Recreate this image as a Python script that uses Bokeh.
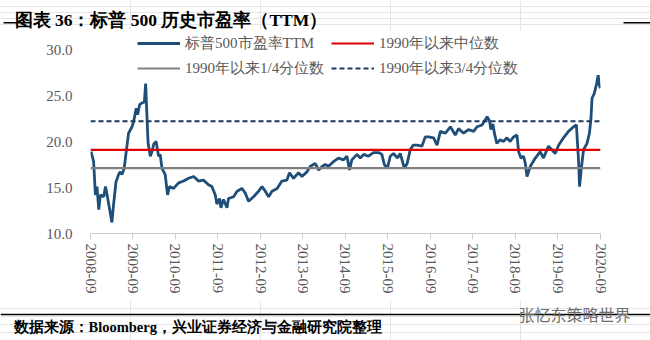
import math
import pandas as pd
from bokeh.plotting import figure
from bokeh.layouts import column
from bokeh.models import (ColumnDataSource, FixedTicker, DatetimeTickFormatter, Legend,
                          LegendItem, Label, BoxAnnotation, Range1d, NumeralTickFormatter)
from bokeh.embed import file_html
from bokeh.resources import INLINE

# ---------------- data ----------------
dates = [
    "2008-09-06", "2008-09-28", "2008-10-13", "2008-10-27", "2008-11-11", "2008-11-25", "2008-12-23",
    "2009-01-08", "2009-01-27", "2009-02-20", "2009-03-04", "2009-03-18", "2009-04-08", "2009-04-30",
    "2009-05-15", "2009-05-29", "2009-06-18", "2009-07-05", "2009-07-25", "2009-08-24", "2009-09-07",
    "2009-09-29", "2009-10-11", "2009-10-28", "2009-11-18", "2009-12-08", "2009-12-19", "2010-01-01",
    "2010-01-09", "2010-01-28", "2010-02-12", "2010-02-26", "2010-03-19", "2010-04-09", "2010-04-23",
    "2010-05-08", "2010-06-05", "2010-06-25", "2010-07-12", "2010-08-16", "2010-09-28", "2010-11-10",
    "2010-12-23", "2011-02-05", "2011-03-18", "2011-04-30", "2011-06-12", "2011-07-11", "2011-08-09",
    "2011-08-23", "2011-09-15", "2011-09-27", "2011-10-19", "2011-11-18", "2011-12-01", "2012-01-14",
    "2012-02-13", "2012-03-25", "2012-04-23", "2012-05-21", "2012-07-03", "2012-08-16", "2012-09-14",
    "2012-10-12", "2012-11-10", "2012-12-09", "2013-01-22", "2013-03-04", "2013-04-16", "2013-05-08",
    "2013-06-12", "2013-07-25", "2013-08-23", "2013-10-05", "2013-11-04", "2013-12-16", "2014-01-14",
    "2014-02-13", "2014-03-11", "2014-04-08", "2014-05-21", "2014-07-03", "2014-08-16", "2014-09-14",
    "2014-10-06", "2014-10-26", "2014-12-09", "2015-01-07", "2015-02-05", "2015-03-17", "2015-04-30",
    "2015-06-12", "2015-07-11", "2015-08-01", "2015-08-28", "2015-09-21", "2015-10-19", "2015-11-23",
    "2015-12-16", "2016-01-20", "2016-02-13", "2016-03-11", "2016-04-04", "2016-05-07", "2016-06-20",
    "2016-07-18", "2016-08-15", "2016-09-28", "2016-10-27", "2016-11-25", "2017-01-07", "2017-02-19",
    "2017-04-02", "2017-04-30", "2017-06-12", "2017-07-24", "2017-09-07", "2017-10-06", "2017-11-18",
    "2017-12-08", "2018-01-01", "2018-01-22", "2018-02-02", "2018-02-19", "2018-03-06", "2018-03-25",
    "2018-04-23", "2018-05-21", "2018-06-20", "2018-07-17", "2018-08-16", "2018-09-14", "2018-09-28",
    "2018-10-18", "2018-11-10", "2018-11-25", "2018-12-09", "2019-01-07", "2019-02-19", "2019-04-02",
    "2019-04-30", "2019-06-12", "2019-07-11", "2019-08-09", "2019-09-07", "2019-10-19", "2019-12-01",
    "2020-01-14", "2020-02-07", "2020-02-13", "2020-02-26", "2020-03-05", "2020-03-17", "2020-04-08",
    "2020-05-08", "2020-05-29", "2020-06-11", "2020-06-20", "2020-07-09", "2020-07-30", "2020-08-12",
    "2020-08-20", "2020-09-01",
]
pe_ttm = [
    18.9, 17.8, 14.2, 15.1, 12.6, 14.2, 14.0,
    15.1, 13.8, 12.1, 11.2, 13.1, 15.6, 16.4,
    16.7, 16.4, 17.1, 18.9, 20.9, 21.6, 22.2,
    23.6, 22.9, 24.0, 24.2, 24.3, 26.3, 22.2,
    19.8, 18.4, 18.9, 19.7, 20.0, 18.4, 18.6,
    17.1, 16.4, 14.2, 15.1, 14.9, 15.5, 15.7,
    16.0, 16.2, 15.7, 15.8, 15.3, 15.1, 14.2,
    13.2, 13.8, 12.8, 13.7, 12.8, 13.8, 14.0,
    14.6, 14.9, 14.4, 13.5, 14.0, 14.6, 15.1,
    14.6, 14.0, 14.6, 14.9, 15.7, 15.8, 16.6,
    16.0, 16.6, 16.2, 16.7, 17.3, 17.6, 16.9,
    17.3, 17.5, 17.3, 17.8, 18.2, 18.0, 18.4,
    16.9, 18.0, 18.6, 18.2, 18.6, 18.4, 18.8,
    18.8, 18.6, 17.5, 17.1, 18.4, 18.7, 18.2,
    18.7, 17.1, 17.6, 19.1, 19.6, 19.6, 19.5,
    20.5, 20.5, 20.4, 19.6, 21.1, 20.9, 21.6,
    20.7, 21.4, 20.9, 21.3, 21.1, 21.6, 21.8,
    22.2, 22.7, 22.2, 21.3, 21.9, 20.8, 19.8,
    20.2, 20.0, 20.4, 20.0, 20.5, 20.7, 18.9,
    18.2, 18.4, 17.6, 16.2, 17.3, 18.2, 18.9,
    18.2, 19.5, 19.1, 18.7, 19.6, 20.4, 21.1,
    21.6, 21.8, 20.5, 17.8, 15.1, 16.7, 19.1,
    19.8, 20.9, 22.5, 24.7, 25.2, 26.3, 27.2,
    26.2, 25.8,
]
ref_dates = ["2008-09-01", "2020-09-01"]
median_1990 = 19.1
q1_1990 = 17.1
q3_1990 = 22.2

series_names = ["标普500市盈率TTM", "1990年以来中位数", "1990年以来1/4分位数", "1990年以来3/4分位数"]
tick_dates = ["2008-09-01", "2009-09-01", "2010-09-01", "2011-09-01", "2012-09-01", "2013-09-01",
              "2014-09-01", "2015-09-01", "2016-09-01", "2017-09-01", "2018-09-01", "2019-09-01",
              "2020-09-01"]
y_ticks = [10, 15, 20, 25, 30]

title_text = "图表 36：标普 500 历史市盈率（TTM）"
source_text = "数据来源：Bloomberg，兴业证券经济与金融研究院整理"
watermark_text = "张忆东策略世界"

# ---------------- styling ----------------
SERIF = "Liberation Serif"
GRAY_TXT = "#595959"
W = 650


def strip(height):
    f = figure(width=W, height=height, output_backend="svg", toolbar_location=None,
               x_range=Range1d(0, 1), y_range=Range1d(0, 1),
               x_axis_location=None, y_axis_location=None, min_border=0)
    f.outline_line_color = None
    f.background_fill_color = "white"
    f.border_fill_color = "white"
    f.frame_align = False
    return f


def hrule(f, x0, x1, y0, y1, color="#000000"):
    f.add_layout(BoxAnnotation(left=x0, right=x1, bottom=y0, top=y1,
                               left_units="screen", right_units="screen",
                               bottom_units="screen", top_units="screen",
                               fill_color=color, fill_alpha=1, line_color=None))


# ---- title strip (canvas y 0..30) ----
top = strip(30)
top.add_layout(Label(x=14, y=11, x_units="screen", y_units="screen", text=title_text,
                     text_font=SERIF, text_font_size="17.5px", text_font_style="bold",
                     text_color="#000000", text_baseline="alphabetic"))
hrule(top, 3, 31, 7, 8.5)
hrule(top, 623, 650, 7, 8.5)

# ---- main chart (canvas y 30..300); frame: x 90..600, y 33..233 ----
x_dt = pd.to_datetime(dates)
rx = pd.to_datetime(ref_dates)
src = ColumnDataSource(dict(x=x_dt, y=pe_ttm))

p = figure(width=W, height=270, x_axis_type="datetime", output_backend="svg",
           toolbar_location=None,
           x_range=Range1d(pd.Timestamp(ref_dates[0]), pd.Timestamp(ref_dates[1])),
           y_range=Range1d(10, 10 + 200 / 9.2),
           min_border_left=90, min_border_right=50, min_border_top=3, min_border_bottom=67)
p.outline_line_color = None
p.grid.visible = False
p.background_fill_color = "white"
p.border_fill_color = "white"
p.frame_align = False

r_ttm = p.line("x", "y", source=src, line_color="#1f4e79", line_width=2.8)
r_med = p.line(rx, [median_1990, median_1990], line_color="#e00000", line_width=2.2)
r_q1 = p.line(rx, [q1_1990, q1_1990], line_color="#808080", line_width=2.2)
r_q3 = p.line(rx, [q3_1990, q3_1990], line_color="#1b3a5c", line_width=2.0, line_dash="5 3")

xa = p.xaxis[0]
xa.ticker = FixedTicker(ticks=[pd.Timestamp(t).value / 1e6 for t in tick_dates])
xa.formatter = DatetimeTickFormatter(days="%Y-%m", months="%Y-%m", years="%Y-%m")
xa.major_label_orientation = -math.pi / 2
xa.axis_line_color = "#cccccc"
xa.major_tick_line_color = "#cccccc"
xa.major_tick_out = 6
xa.major_tick_in = 0
xa.minor_tick_line_color = None
xa.major_label_standoff = 4
xa.major_label_text_font = SERIF
xa.major_label_text_font_size = "15px"
xa.major_label_text_color = GRAY_TXT

ya = p.yaxis[0]
ya.ticker = FixedTicker(ticks=y_ticks)
ya.formatter = NumeralTickFormatter(format="0.0")
ya.axis_line_color = None
ya.major_tick_line_color = None
ya.minor_tick_line_color = None
ya.major_tick_out = 0
ya.major_label_standoff = 18
ya.major_label_text_font = SERIF
ya.major_label_text_font_size = "15px"
ya.major_label_text_color = GRAY_TXT


def make_legend(items, loc):
    return Legend(items=items, location=loc, orientation="vertical",
                  glyph_width=43, glyph_height=20, label_height=20, spacing=5,
                  padding=0, margin=0, label_standoff=5,
                  border_line_color=None, background_fill_alpha=0,
                  label_text_font=SERIF, label_text_font_size="15px",
                  label_text_color=GRAY_TXT)


lg1 = make_legend([LegendItem(label=series_names[0], renderers=[r_ttm]),
                   LegendItem(label=series_names[2], renderers=[r_q1])], (47, 155))
lg2 = make_legend([LegendItem(label=series_names[1], renderers=[r_med]),
                   LegendItem(label=series_names[3], renderers=[r_q3])], (241, 155))
p.add_layout(lg1, "center")
p.add_layout(lg2, "center")

# ---- footer strip (canvas y 300..340) ----
bot = strip(40)
bot.line([0, 1], [0.65, 0.65], line_color="#000000", line_width=1.5)
bot.add_layout(Label(x=13, y=14, x_units="screen", y_units="screen", text=source_text,
                     text_font=SERIF, text_font_size="14.5px", text_font_style="bold",
                     text_color="#000000", text_baseline="middle"))
bot.add_layout(Label(x=518, y=27, x_units="screen", y_units="screen", text=watermark_text,
                     text_font="Noto Sans CJK SC", text_font_size="16px",
                     text_color="#6e6e6e", text_baseline="middle"))

layout = column(top, p, bot, spacing=0)
open("out.html", "w").write(file_html(layout, INLINE))
